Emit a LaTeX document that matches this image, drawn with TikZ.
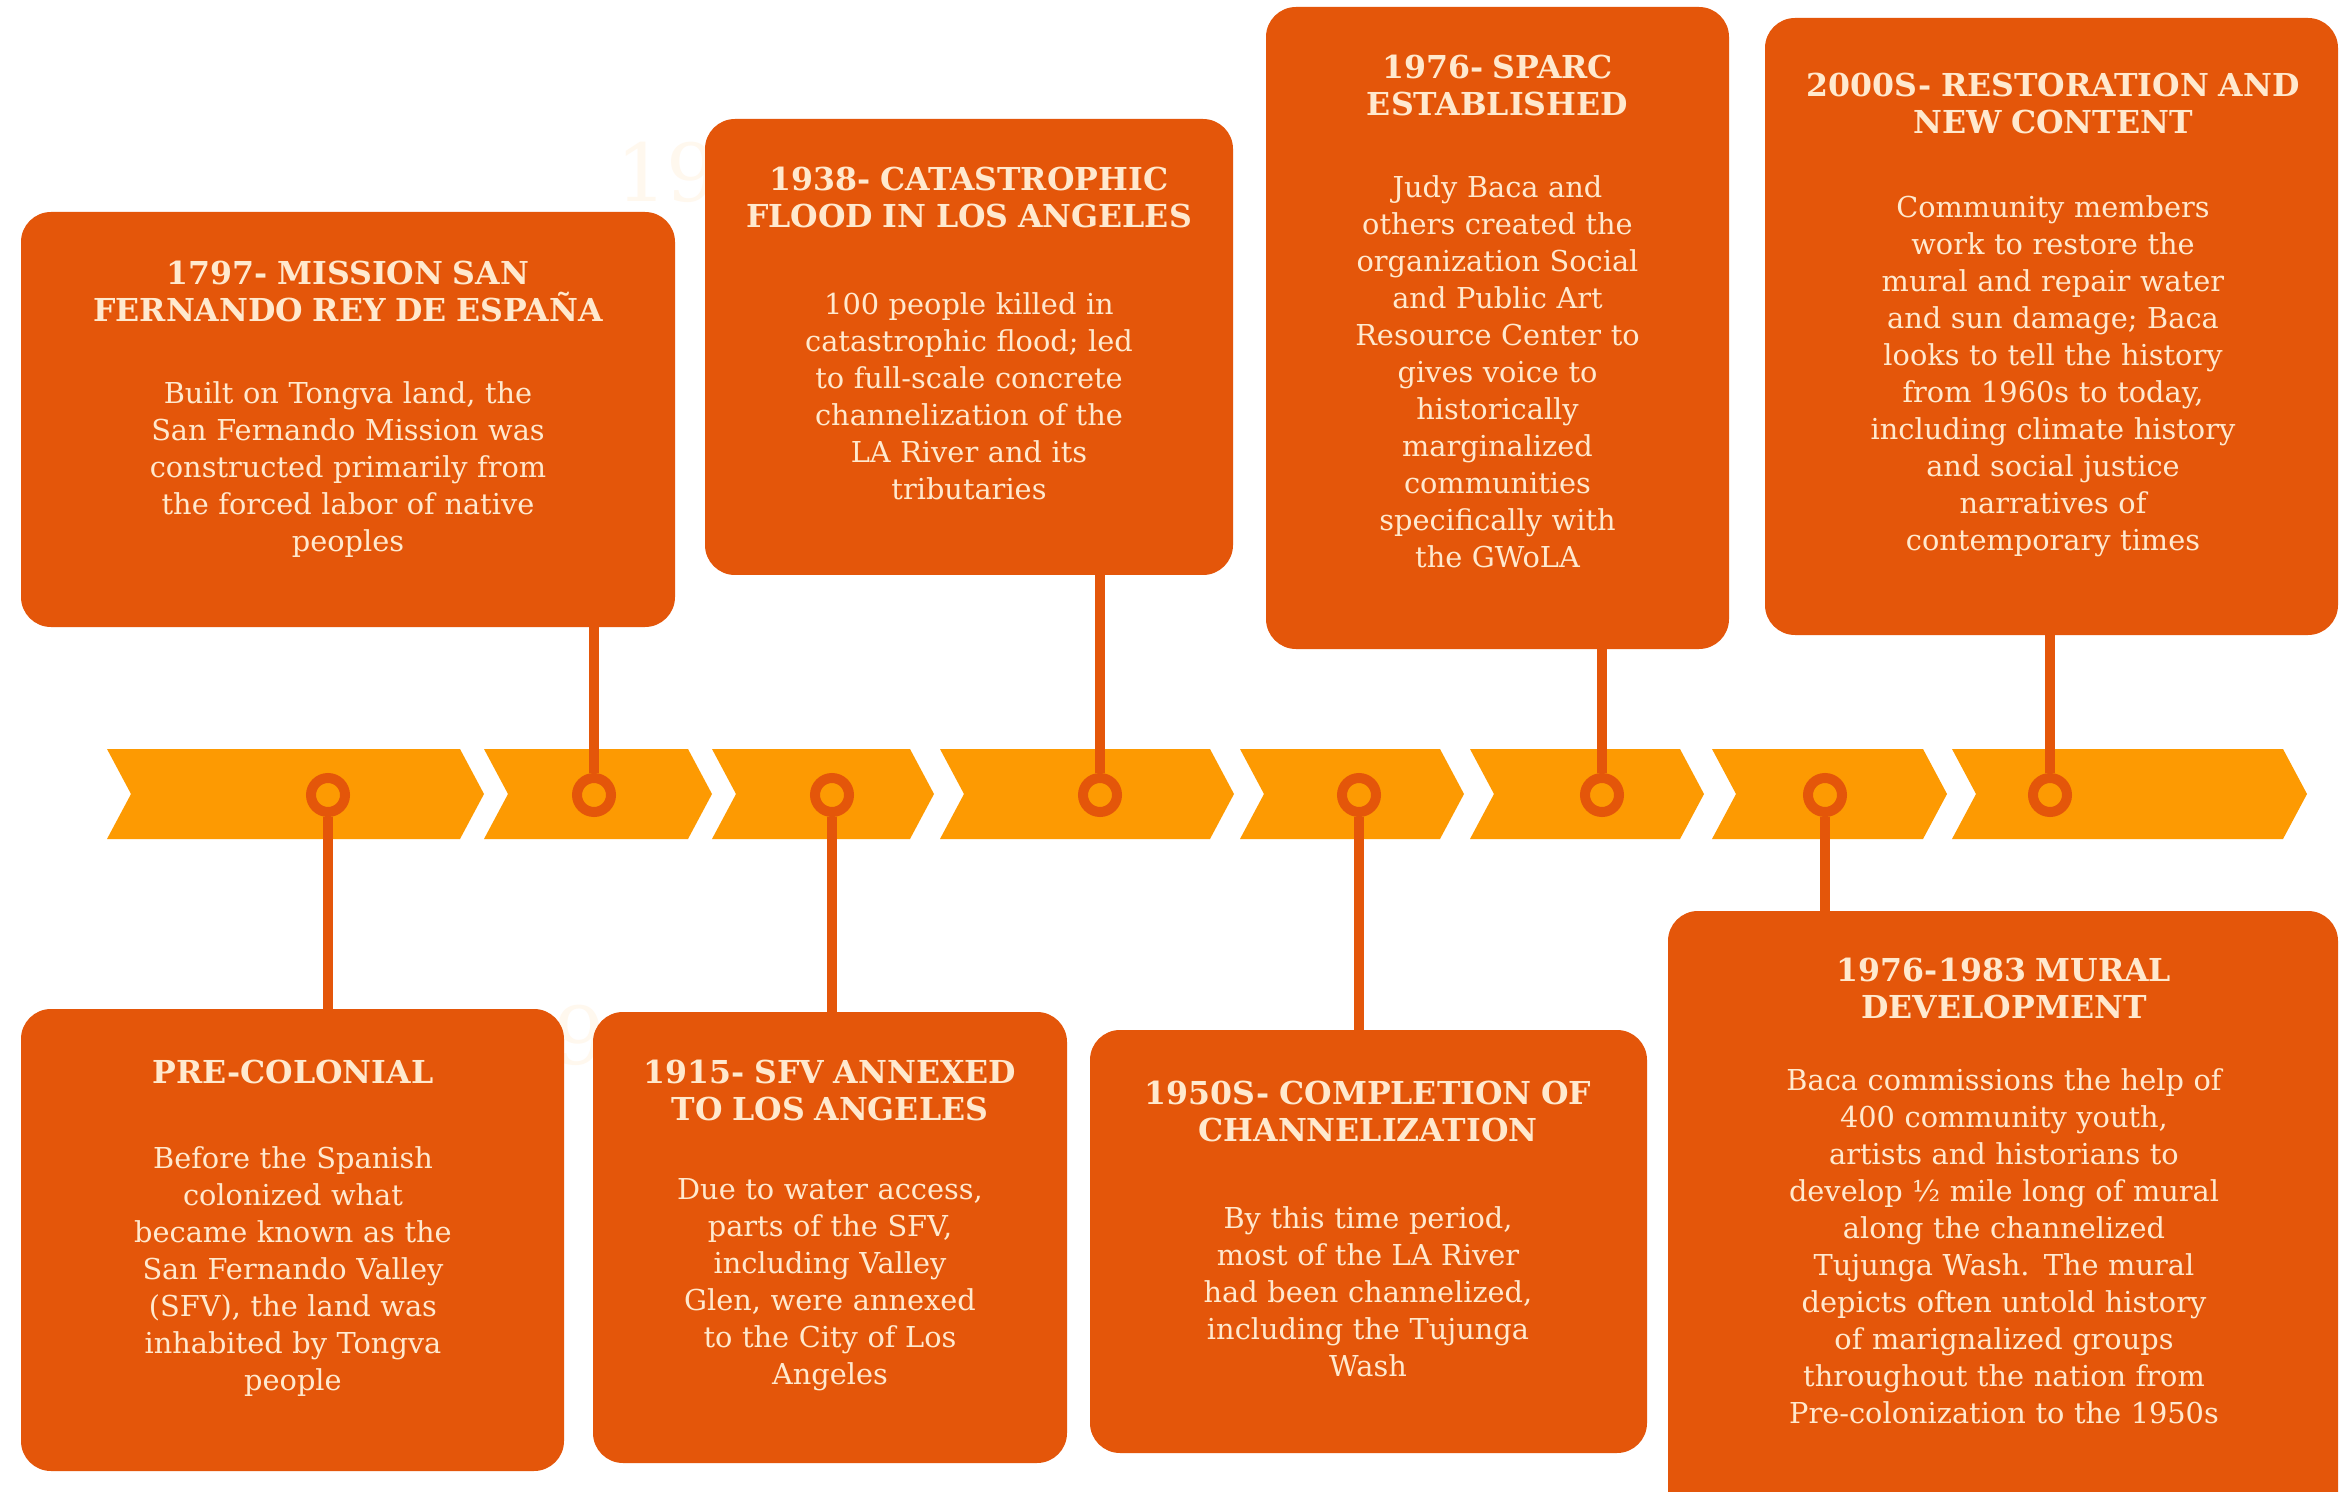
\documentclass[tikz,border=0pt]{standalone}
\usepackage{fontspec}
\setmainfont{DejaVu Serif}
\definecolor{boxc}{RGB}{228,86,10}
\definecolor{bandc}{RGB}{253,154,2}
\definecolor{txtc}{RGB}{255,233,206}
\definecolor{ghost}{RGB}{255,248,238}
\newcommand\mychev[2]{\fill[bandc] (#1,749) -- (#2,749) -- ({#2+24},794) -- (#2,839) -- (#1,839) -- ({#1+24},794) -- cycle;}
\newcommand\ttl{\bfseries\fontsize{15.8}{18.2}\selectfont}
\newcommand\bdy{\mdseries\fontsize{14.4}{18.5}\selectfont}
\tikzset{
  evbox/.style={fill=boxc, rounded corners=15pt, inner sep=0pt, draw=none},
  evtext/.style={text=txtc, align=center, inner sep=0pt, anchor=north, font=\bdy},
  ring/.style={circle, draw=boxc, fill=bandc, line width=5pt, minimum size=17pt, inner sep=0pt},
  stem/.style={draw=boxc, line width=5pt},
  ghosttext/.style={text=ghost, font=\fontsize{40}{40}\selectfont, inner sep=0pt}
}
\begin{document}
\begin{tikzpicture}[x=0.5pt,y=-0.5pt]
\useasboundingbox (0,0) rectangle (2341,1492);
\clip (0,0) rectangle (2341,1492);
\fill[white] (0,0) rectangle (2341,1492);
% faint ghost digits
\node[ghosttext] (g1) at (667,172) {19};
\node[ghosttext] (g2) at (580,1035) {9};
% timeline band
\mychev{107}{460}
\mychev{484}{688}
\mychev{712}{910}
\mychev{940}{1210}
\mychev{1240}{1440}
\mychev{1470}{1680}
\mychev{1712}{1923}
\mychev{1952}{2283}
% boxes
\node[evbox, minimum width=327pt, minimum height=207.5pt] (b1) at (348,419.5) {};
\node[evbox, minimum width=264pt, minimum height=228pt] (b2) at (969,347) {};
\node[evbox, minimum width=231.5pt, minimum height=321pt] (b3) at (1497.5,328) {};
\node[evbox, minimum width=286.5pt, minimum height=308.5pt] (b4) at (2051.5,326.5) {};
\node[evbox, minimum width=271.5pt, minimum height=231pt] (b5) at (292.5,1240) {};
\node[evbox, minimum width=237pt, minimum height=225.5pt] (b6) at (830,1237.5) {};
\node[evbox, minimum width=278.5pt, minimum height=211.5pt] (b7) at (1368.5,1241.5) {};
\node[evbox, minimum width=335pt, minimum height=309.5pt] (b8) at (2003,1220.5) {};
% rings
\node[ring] (r1) at (328,795) {};
\node[ring] (r2) at (594,795) {};
\node[ring] (r3) at (832,795) {};
\node[ring] (r4) at (1100,795) {};
\node[ring] (r5) at (1359,795) {};
\node[ring] (r6) at (1602,795) {};
\node[ring] (r7) at (1825,795) {};
\node[ring] (r8) at (2050,795) {};
% stems
\draw[stem] (r1.south) -- (r1.south |- b5.north);
\draw[stem] (r2.north) -- (r2.north |- b1.south);
\draw[stem] (r3.south) -- (r3.south |- b6.north);
\draw[stem] (r4.north) -- (r4.north |- b2.south);
\draw[stem] (r5.south) -- (r5.south |- b7.north);
\draw[stem] (r6.north) -- (r6.north |- b3.south);
\draw[stem] (r7.south) -- (r7.south |- b8.north);
\draw[stem] (r8.north) -- (r8.north |- b4.south);
% texts
\node[evtext, text width=324pt] (t1) at (348,261) {\ttl 1797- MISSION SAN\\FERNANDO REY DE ESPAÑA\\[22.5pt]\bdy Built on Tongva land, the\\San Fernando Mission was\\constructed primarily from\\the forced labor of native\\peoples};
\node[evtext, text width=262pt] (t2) at (969,167) {\ttl 1938- CATASTROPHIC\\FLOOD IN LOS ANGELES\\[25pt]\bdy 100 people killed in\\catastrophic flood; led\\to full-scale concrete\\channelization of the\\LA River and its\\tributaries};
\node[evtext, text width=229pt] (t3) at (1497.5,55) {\ttl 1976- SPARC\\ESTABLISHED\\[22.5pt]\bdy Judy Baca and\\others created the\\organization Social\\and Public Art\\Resource Center to\\gives voice to\\historically\\marginalized\\communities\\specifically with\\the GWoLA};
\node[evtext, text width=284pt] (t4) at (2053,73) {\ttl 2000S- RESTORATION AND\\NEW CONTENT\\[23.5pt]\bdy Community members\\work to restore the\\mural and repair water\\and sun damage; Baca\\looks to tell the history\\from 1960s to today,\\including climate history\\and social justice\\narratives of\\contemporary times};
\node[evtext, text width=268pt] (t5) at (293,1060) {\ttl PRE-COLONIAL\\[24pt]\bdy Before the Spanish\\colonized what\\became known as the\\San Fernando Valley\\(SFV), the land was\\inhabited by Tongva\\people};
\node[evtext, text width=235pt] (t6) at (830,1060) {\ttl 1915- SFV ANNEXED\\TO LOS ANGELES\\[21pt]\bdy Due to water access,\\parts of the SFV,\\including Valley\\Glen, were annexed\\to the City of Los\\Angeles};
\node[evtext, text width=276pt] (t7) at (1368,1081) {\ttl 1950S- COMPLETION OF\\CHANNELIZATION\\[25pt]\bdy By this time period,\\most of the LA River\\had been channelized,\\including the Tujunga\\Wash};
\node[evtext, text width=333pt] (t8) at (2004,958) {\ttl 1976-1983 MURAL\\DEVELOPMENT\\[17.5pt]\bdy Baca commissions the help of\\400 community youth,\\artists and historians to\\develop ½ mile long of mural\\along the channelized\\Tujunga Wash. The mural\\depicts often untold history\\of marignalized groups\\throughout the nation from\\Pre-colonization to the 1950s};
\end{tikzpicture}
\end{document}
